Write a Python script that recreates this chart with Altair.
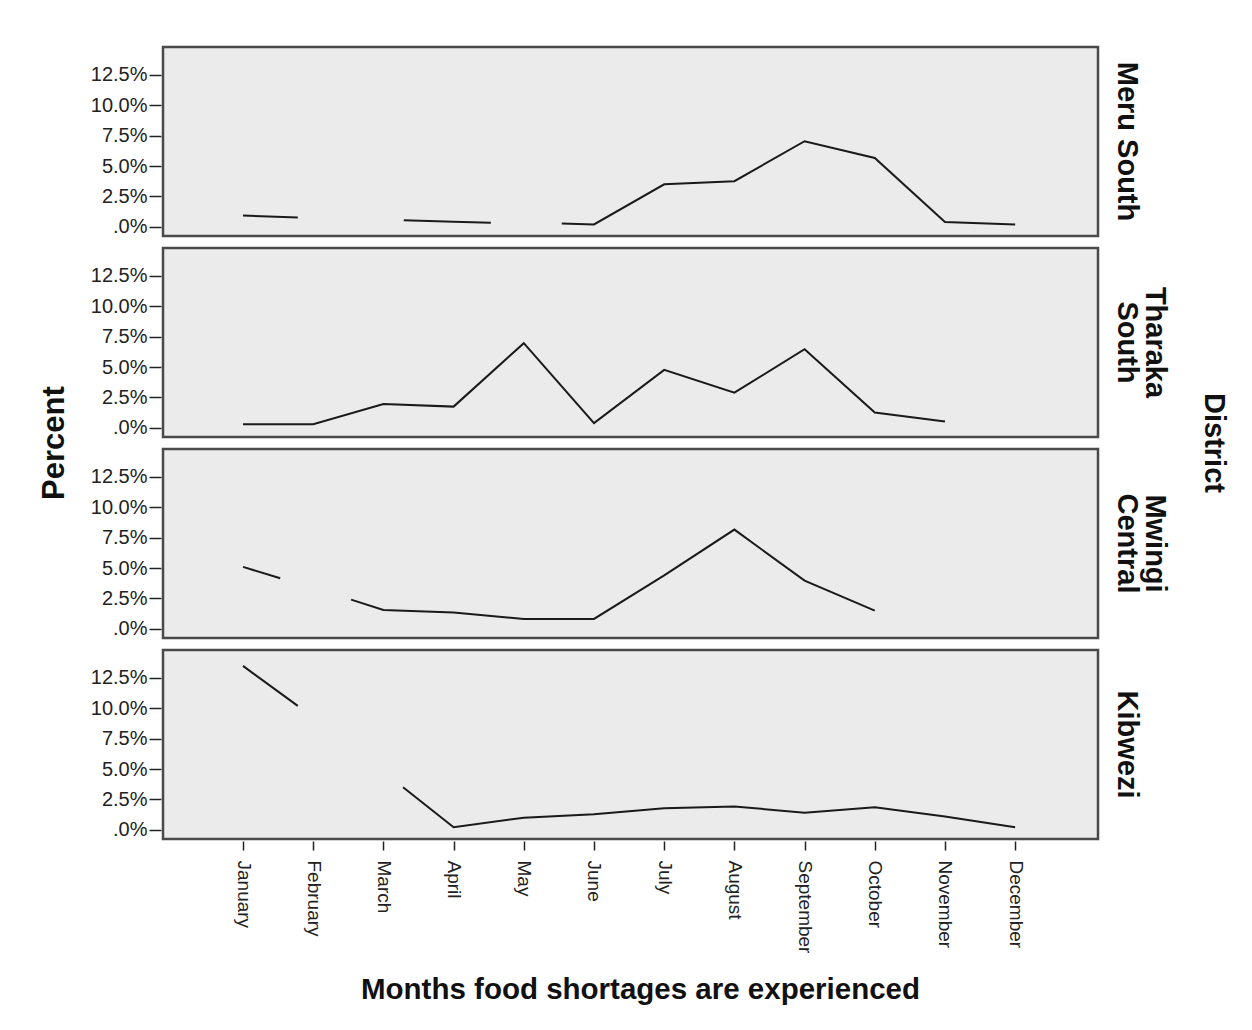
import altair as alt
import pandas as pd

months = ["January", "February", "March", "April", "May", "June", "July",
          "August", "September", "October", "November", "December"]
districts = ["Meru South", "Tharaka South", "Mwingi Central", "Kibwezi"]

# Each district: list of line segments (positions on month index, percent values)
meru_pos = [[0, 0.78], [2.29, 3, 3.53], [4.54, 5, 6, 7, 8, 9, 10, 11]]
meru_val = [[0.93, 0.77], [0.55, 0.42, 0.33], [0.27, 0.2, 3.5, 3.76, 7.05, 5.67, 0.41, 0.19]]

tharaka_pos = [[0, 1, 2, 3, 4, 5, 6, 7, 8, 9, 10]]
tharaka_val = [[0.3, 0.3, 1.97, 1.75, 6.97, 0.39, 4.77, 2.9, 6.47, 1.26, 0.52]]

mwingi_pos = [[0, 0.53], [1.54, 2, 3, 4, 5, 6, 7, 8, 9]]
mwingi_val = [[5.1, 4.17], [2.41, 1.56, 1.35, 0.82, 0.82, 4.4, 8.17, 3.97, 1.5]]

kibwezi_pos = [[0, 0.78], [2.28, 3, 4, 5, 6, 7, 8, 9, 10, 11]]
kibwezi_val = [[13.49, 10.2], [3.51, 0.22, 1.0, 1.28, 1.78, 1.92, 1.42, 1.87, 1.1, 0.22]]

y_ticks = [0, 2.5, 5.0, 7.5, 10.0, 12.5]

rows = []
for name, plist, vlist in [("Meru South", meru_pos, meru_val),
                           ("Tharaka South", tharaka_pos, tharaka_val),
                           ("Mwingi Central", mwingi_pos, mwingi_val),
                           ("Kibwezi", kibwezi_pos, kibwezi_val)]:
    for si, (ps, vs) in enumerate(zip(plist, vlist)):
        for p, v in zip(ps, vs):
            rows.append({"district": name, "seg": f"{name}-{si}", "pos": p, "pct": v})
df = pd.DataFrame(rows)

month_expr = "[" + ",".join(f"'{m}'" for m in months) + "][datum.value]"

TICK_FONT = "Liberation Sans"
BOLD_FONT = "Liberation Sans"

base = alt.Chart(df).mark_line(color="#1a1a1a", strokeWidth=2).encode(
    x=alt.X("pos:Q",
            scale=alt.Scale(domain=[-1.14, 12.18], nice=False, zero=False),
            axis=alt.Axis(values=list(range(12)), labelExpr=month_expr,
                          labelAngle=90, labelAlign="left", labelBaseline="middle",
                          labelPadding=10, tickSize=9, tickWidth=1.5, grid=False, domain=False,
                          title="Months food shortages are experienced",
                          titleFontSize=29.5, titleFontWeight="bold",
                          titleFont=BOLD_FONT, titleColor="#111", titlePadding=23,
                          titleX=477, titleAlign="center",
                          labelFont=TICK_FONT, labelFontSize=19,
                          labelColor="#222", tickColor="#222")),
    y=alt.Y("pct:Q",
            scale=alt.Scale(domain=[-0.75, 14.8], nice=False, zero=False),
            axis=alt.Axis(values=y_ticks,
                          labelExpr="datum.value == 0 ? '.0%' : format(datum.value, '.1f') + '%'",
                          tickSize=12, tickWidth=1.5, grid=False, domain=False, title=None,
                          labelFont=TICK_FONT, labelFontSize=20,
                          labelColor="#222", tickColor="#222", labelPadding=2)),
    detail="seg:N",
    order="pos:Q",
).properties(width=935, height=189)

label_expr = ("indexof(datum.value, 'Meru') >= 0 || datum.value == 'Kibwezi' "
              "? datum.value : split(datum.value, ' ')")

chart = base.facet(
    row=alt.Row("district:N", sort=districts,
                header=alt.Header(title="District", titleOrient="right", labelOrient="right",
                                  labelAngle=90, titleAngle=90,
                                  labelFont=BOLD_FONT, labelFontSize=29,
                                  labelFontWeight="bold", labelColor="#111",
                                  titleFont=BOLD_FONT, titleFontSize=29,
                                  titleFontWeight="bold", titleColor="#111",
                                  labelPadding=12, titlePadding=20,
                                  labelExpr=label_expr, labelLineHeight=28)),
    spacing=8,
    title=alt.TitleParams("Percent", orient="left", anchor="middle",
                          font=BOLD_FONT, fontSize=31, fontWeight="bold",
                          color="#111", offset=19, dx=82),
).properties(
    padding={"left": 31, "top": 37, "right": 10, "bottom": 10},
    background="white",
).configure_view(
    fill="#EBEBEB", stroke="#4a4a4a", strokeWidth=2.5
)

chart.save("out.html", embed_options={"renderer": "svg", "actions": False})
